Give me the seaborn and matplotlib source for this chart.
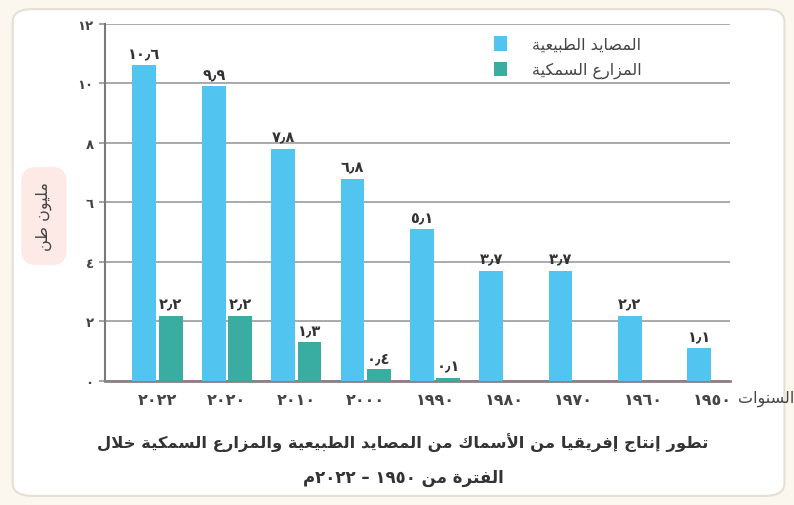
import re
import numpy as np
import pandas as pd
import seaborn as sns
import matplotlib.pyplot as plt
from matplotlib.patches import FancyBboxPatch, Patch

# data (million tonnes)
years = ["٢٠٢٢", "٢٠٢٠", "٢٠١٠", "٢٠٠٠", "١٩٩٠", "١٩٨٠", "١٩٧٠", "١٩٦٠", "١٩٥٠"]
natural = [10.6, 9.9, 7.8, 6.8, 5.1, 3.7, 3.7, 2.2, 1.1]
farms = [2.2, 2.2, 1.3, 0.4, 0.1, np.nan, np.nan, np.nan, np.nan]
series = ["المصايد الطبيعية", "المزارع السمكية"]
yticks = [0, 2, 4, 6, 8, 10, 12]

title_1 = "تطور إنتاج إفريقيا من الأسماك من المصايد الطبيعية والمزارع السمكية خلال"
title_2 = "الفترة من ١٩٥٠ – ٢٠٢٢م"
ylabel = "مليون طن"
xlabel = "السنوات"

colors = ["#52c4f0", "#3aada3"]

##################################
# small Arabic shaping helper (no raqm in matplotlib)
##################################
# isolated, final, initial, medial
FORMS = {
    "ا": ("\ufe8d", "\ufe8e", None, None),
    "أ": ("\ufe83", "\ufe84", None, None),
    "إ": ("\ufe87", "\ufe88", None, None),
    "ب": ("\ufe8f", "\ufe90", "\ufe91", "\ufe92"),
    "ة": ("\ufe93", "\ufe94", None, None),
    "ت": ("\ufe95", "\ufe96", "\ufe97", "\ufe98"),
    "ج": ("\ufe9d", "\ufe9e", "\ufe9f", "\ufea0"),
    "خ": ("\ufea5", "\ufea6", "\ufea7", "\ufea8"),
    "د": ("\ufea9", "\ufeaa", None, None),
    "ر": ("\ufead", "\ufeae", None, None),
    "ز": ("\ufeaf", "\ufeb0", None, None),
    "س": ("\ufeb1", "\ufeb2", "\ufeb3", "\ufeb4"),
    "ص": ("\ufeb9", "\ufeba", "\ufebb", "\ufebc"),
    "ط": ("\ufec1", "\ufec2", "\ufec3", "\ufec4"),
    "ع": ("\ufec9", "\ufeca", "\ufecb", "\ufecc"),
    "ف": ("\ufed1", "\ufed2", "\ufed3", "\ufed4"),
    "ق": ("\ufed5", "\ufed6", "\ufed7", "\ufed8"),
    "ك": ("\ufed9", "\ufeda", "\ufedb", "\ufedc"),
    "ل": ("\ufedd", "\ufede", "\ufedf", "\ufee0"),
    "م": ("\ufee1", "\ufee2", "\ufee3", "\ufee4"),
    "ن": ("\ufee5", "\ufee6", "\ufee7", "\ufee8"),
    "ه": ("\ufee9", "\ufeea", "\ufeeb", "\ufeec"),
    "و": ("\ufeed", "\ufeee", None, None),
    "ي": ("\ufef1", "\ufef2", "\ufef3", "\ufef4"),
}
LAM_ALEF = {"ا": ("\ufefb", "\ufefc"), "أ": ("\ufef7", "\ufef8"), "إ": ("\ufef9", "\ufefa")}


def shape(text):
    out = []
    i = 0
    n = len(text)
    while i < n:
        c = text[i]
        if c not in FORMS:
            out.append(c)
            i += 1
            continue
        prev = text[i - 1] if i > 0 else None
        join_prev = prev in FORMS and FORMS[prev][2] is not None
        if c == "ل" and i + 1 < n and text[i + 1] in LAM_ALEF:
            iso, fin = LAM_ALEF[text[i + 1]]
            out.append(fin if join_prev else iso)
            i += 2
            continue
        nxt = text[i + 1] if i + 1 < n else None
        join_next = FORMS[c][2] is not None and nxt in FORMS
        iso, fin, ini, med = FORMS[c]
        if join_prev and join_next:
            out.append(med)
        elif join_prev:
            out.append(fin)
        elif join_next:
            out.append(ini)
        else:
            out.append(iso)
        i += 1
    return "".join(out)


def ar(text):
    """shape + visual right-to-left order, digit runs stay left-to-right"""
    runs = re.split(r"([\u0660-\u0669\u066b0-9]+)", shape(text))
    runs = [r if re.fullmatch(r"[\u0660-\u0669\u066b0-9]+", r) else r[::-1] for r in runs]
    return "".join(runs[::-1])


def east(v):
    return f"{v:.1f}".translate(str.maketrans("0123456789.", "٠١٢٣٤٥٦٧٨٩٫"))


##################################
# plot
##################################
df = pd.DataFrame(
    {
        "year": years * 2,
        "value": natural + farms,
        "source": [series[0]] * len(years) + [series[1]] * len(years),
    }
)

sns.set_theme(style="white")
plt.rcParams["font.family"] = ["DejaVu Sans"]

fig = plt.figure(figsize=(7.94, 5.06), dpi=100)
fig.patch.set_facecolor("#fbf7ef")
fig.patches.append(
    FancyBboxPatch(
        (0.016, 0.018), 0.972, 0.962,
        boxstyle="round,pad=0,rounding_size=0.025",
        transform=fig.transFigure, fc="white", ec="#e6dfd2", lw=1.5, zorder=-5,
    )
)
ax = fig.add_axes([0.132, 0.245, 0.787, 0.706])
ax.set_zorder(2)
ax.patch.set_alpha(0)

sns.barplot(
    data=df, x="year", y="value", hue="source", order=years, hue_order=series,
    palette=colors, width=0.76, gap=0.1, saturation=1, legend=False, ax=ax,
    linewidth=0, zorder=3,
)

for cont in ax.containers:
    labels = ["" if np.isnan(p.get_height()) else east(p.get_height()) for p in cont]
    ax.bar_label(cont, labels=labels, padding=3, fontsize=10.5, fontweight="bold",
                 color="#333333")

ax.set_xlim(-0.76, 8.25)
ax.set_ylim(0, 12)
ax.set_yticks(yticks, [east(t).split("٫")[0] for t in yticks])
ax.yaxis.grid(True, color="#a3a3a3", lw=1.3, zorder=0)
ax.set_axisbelow(True)
for s in ["top", "right"]:
    ax.spines[s].set_visible(False)
ax.spines["left"].set_color("#7a7a7a")
ax.spines["left"].set_linewidth(1.5)
ax.spines["bottom"].set_color("#8c7f86")
ax.spines["bottom"].set_linewidth(2)
ax.tick_params(axis="y", left=True, length=4, color="#999999", labelsize=9.5,
               labelcolor="#444444", pad=4)
ax.tick_params(axis="x", bottom=False, labelsize=11.5, labelcolor="#444444", pad=2)
for lab in ax.get_yticklabels() + ax.get_xticklabels():
    lab.set_fontweight("bold")
ax.set_xlabel("")
ax.set_ylabel("")

handles = [Patch(fc=c, ec="none") for c in colors]
ax.legend(handles, [ar(s) for s in series], loc="upper left",
          bbox_to_anchor=(0.6, 1.005), frameon=False, fontsize=11.5,
          handlelength=0.8, handleheight=1.0, handletextpad=1.6, labelspacing=0.6,
          labelcolor="#444444")

fig.text(738 / 794, 1 - 399 / 506, ar(xlabel), ha="left", va="center",
         fontsize=11.5, color="#444444")
fig.text(44 / 794, 1 - 217 / 506, ar(ylabel), rotation=90, ha="center", va="center",
         fontsize=11.5, color="#444444",
         bbox=dict(boxstyle="round,pad=0.9", fc="#fde9e6", ec="none"))
fig.text(403 / 794, 1 - 443 / 506, ar(title_1), ha="center", va="center",
         fontsize=11.8, fontweight="bold", color="#333333")
fig.text(403 / 794, 1 - 478 / 506, ar(title_2), ha="center", va="center",
         fontsize=12, fontweight="bold", color="#333333")

plt.savefig("out.png", dpi=100, facecolor=fig.get_facecolor())
